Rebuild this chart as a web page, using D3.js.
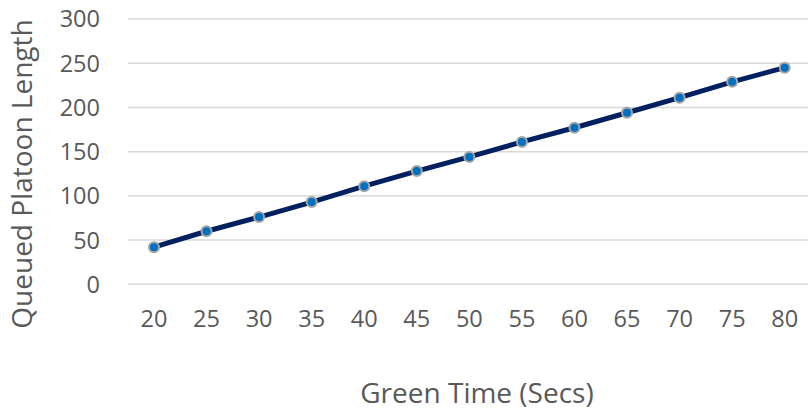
<!DOCTYPE html>
<html><head><meta charset="utf-8">
<script src="https://cdn.jsdelivr.net/npm/d3@7"></script>
<style>body{margin:0;background:#fff}svg text{font-family:"Open Sans",sans-serif;fill:#595959}</style>
</head><body><svg id="c" width="811" height="415"></svg>
<script>
const categories = ["20","25","30","35","40","45","50","55","60","65","70","75","80"];
const values = [42,60,76,93,111,128,144,161,177,194,211,229,245];
const yTicks = [0,50,100,150,200,250,300];
const xTitle = "Green Time (Secs)";
const yTitle = "Queued Platoon Length";

const svg = d3.select("#c");
const x = d3.scalePoint().domain(categories).range([127.7, 811]).padding(0.5);
const y = d3.scaleLinear().domain([0,300]).range([284.3, 19]);

svg.append("g").selectAll("line").data(yTicks).join("line")
  .attr("x1",127.7).attr("x2",808).attr("y1",d=>y(d)).attr("y2",d=>y(d))
  .attr("stroke","#d9d9d9").attr("stroke-width",1.5);

svg.append("g").selectAll("text").data(yTicks).join("text")
  .attr("x",100).attr("y",d=>y(d)).attr("dy","0.36em").attr("text-anchor","end")
  .attr("font-size",23.5).text(d=>d);

svg.append("g").selectAll("text").data(categories).join("text")
  .attr("x",d=>x(d)).attr("y",319).attr("dy","0.36em").attr("text-anchor","middle")
  .attr("font-size",23.5).text(d=>d);

const line = d3.line().x((d,i)=>x(categories[i])).y(d=>y(d));
svg.append("path").datum(values).attr("d",line).attr("fill","none")
  .attr("stroke","#002060").attr("stroke-width",5).attr("stroke-linecap","round");

svg.append("g").selectAll("circle").data(values).join("circle")
  .attr("cx",(d,i)=>x(categories[i])).attr("cy",d=>y(d)).attr("r",5)
  .attr("fill","#0070c0").attr("stroke","#a5a5a5").attr("stroke-width",2);

svg.append("text").attr("x",477).attr("y",393).attr("dy","0.36em").attr("text-anchor","middle")
  .attr("font-size",28).text(xTitle);
svg.append("text").attr("transform","translate(22,174) rotate(-90)").attr("dy","0.36em")
  .attr("text-anchor","middle").attr("font-size",28).text(yTitle);
</script></body></html>
